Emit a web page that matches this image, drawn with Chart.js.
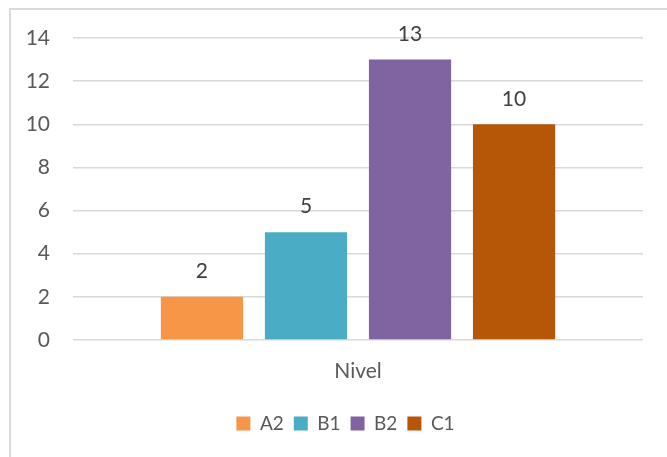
<!DOCTYPE html>
<html>
<head>
<meta charset="utf-8">
<script src="https://cdn.jsdelivr.net/npm/chart.js@4/dist/chart.umd.min.js"></script>
<style>
  body { margin: 0; background: #fff; }
  #frame { position: absolute; left: 9px; top: 8px; width: 700px; height: 500px; border: 2px solid #d9d9d9; box-sizing: border-box; }
  #wrap { position: absolute; left: 0; top: 0; width: 667px; height: 457px; }
</style>
</head>
<body>
<div id="frame"></div>
<div id="wrap"><canvas id="levelChart" width="667" height="457"></canvas></div>
<script>
'use strict';

//--------> Chart data <--------
const categories = ['Nivel'];
const seriesNames = ['A2', 'B1', 'B2', 'C1'];
const seriesValues = [2, 5, 13, 10];
const seriesColors = ['#F79646', '#4BACC6', '#8064A2', '#B65708'];
const yTicks = [0, 2, 4, 6, 8, 10, 12, 14];

const textColor = '#595959';
const fontName = 'Lato, "Open Sans", sans-serif';

// one dataset per level so each one gets a legend entry
let datasets = [];
for (let i = 0; i < seriesNames.length; i++) {
  datasets.push({
    label: seriesNames[i],
    data: [seriesValues[i]],
    backgroundColor: seriesColors[i],
    borderWidth: 0
  });
}

//--------> Value labels above the bars <--------
const valueLabels = {
  id: 'valueLabels',
  afterLayout (chart) {
    // the legend sits centred in the outer frame, a bit right of the canvas centre
    chart.legend.left = 48;
  },
  afterDatasetsDraw (chart) {
    let ctx = chart.ctx;
    ctx.save();
    ctx.fillStyle = '#404040';
    ctx.font = '21px ' + fontName;
    ctx.textAlign = 'center';
    ctx.textBaseline = 'bottom';
    chart.data.datasets.forEach((ds, i) => {
      let bar = chart.getDatasetMeta(i).data[0];
      ctx.fillText(String(ds.data[0]), bar.x, bar.y - 15);
    });
    ctx.restore();
  }
};

let ctx = document.getElementById('levelChart').getContext('2d');
let levelChart = new Chart(ctx, {
  type: 'bar',
  data: {
    labels: categories,
    datasets: datasets
  },
  options: {
    responsive: false,
    animation: false,
    layout: { padding: { left: 0, right: 24, top: 38, bottom: 14 } },
    datasets: {
      bar: { categoryPercentage: 0.73, barPercentage: 0.79 }
    },
    plugins: {
      tooltip: { enabled: false },
      legend: {
        position: 'bottom',
        labels: {
          color: textColor,
          font: { family: fontName, size: 19 },
          boxWidth: 14,
          boxHeight: 14,
          padding: 10
        }
      }
    },
    scales: {
      x: {
        grid: { display: false, drawTicks: false },
        border: { display: false },
        ticks: { color: textColor, font: { family: fontName, size: 21 }, padding: 19 },
        afterFit (scale) { scale.height = 64; }
      },
      y: {
        min: 0,
        max: 14,
        afterBuildTicks (scale) { scale.ticks = yTicks.map(v => ({ value: v })); },
        grid: { color: '#d9d9d9', lineWidth: 1.5, drawTicks: false },
        border: { display: false },
        ticks: { color: textColor, font: { family: fontName, size: 21 }, padding: 23 },
        afterFit (scale) { scale.width = 73; }
      }
    }
  },
  plugins: [valueLabels]
});
</script>
</body>
</html>
